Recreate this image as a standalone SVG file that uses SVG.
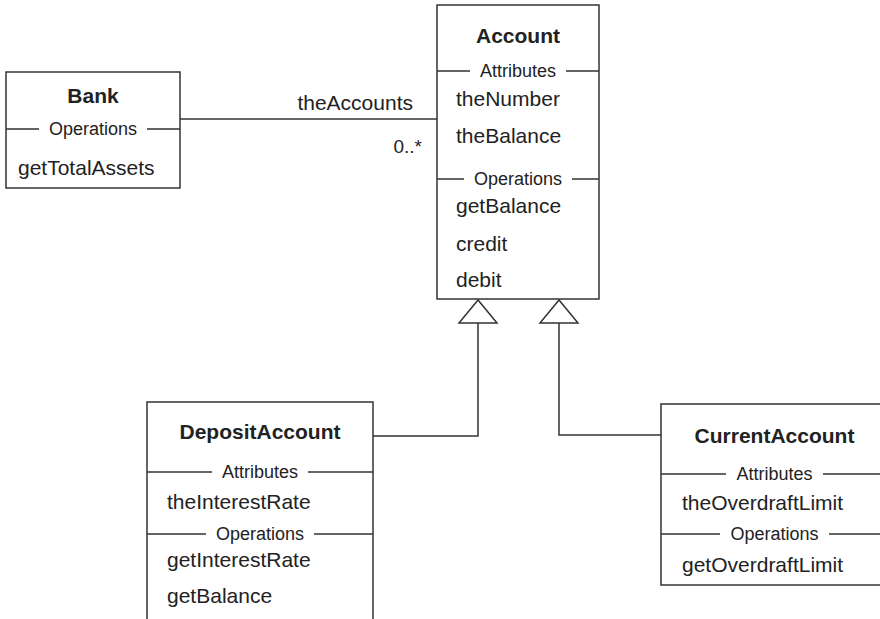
<svg xmlns="http://www.w3.org/2000/svg" width="880" height="619" viewBox="0 0 880 619">
  <style>
    .box { fill: #fff; stroke: #333; stroke-width: 1.5; }
    .sep { stroke: #333; stroke-width: 1.5; fill: none; }
    .conn { stroke: #333; stroke-width: 1.5; fill: none; }
    .tri { fill: #fff; stroke: #333; stroke-width: 1.5; stroke-linejoin: miter; }
    .title { font-family: "Liberation Sans", Arial, sans-serif; font-weight: bold; font-size: 21px; fill: #222; text-anchor: middle; }
    .head { font-family: "Liberation Sans", Arial, sans-serif; font-size: 18px; fill: #222; text-anchor: middle; }
    .mem { font-family: "Liberation Sans", Arial, sans-serif; font-size: 21px; fill: #222; }
    .lbl { font-family: "Liberation Sans", Arial, sans-serif; font-size: 21px; fill: #222; text-anchor: end; }
    .mult { font-family: "Liberation Sans", Arial, sans-serif; font-size: 19px; fill: #222; text-anchor: end; }
  </style>

  <!-- connectors: association and generalisations -->
  <g id="connectors">
    <path class="conn" d="M180,119 H437"/>
    <text class="lbl" x="413" y="110">theAccounts</text>
    <text class="mult" x="422" y="153">0..*</text>
    <path class="conn" d="M373,436 H478 V323"/>
    <path class="conn" d="M661,435 H559 V323"/>
    <polygon class="tri" points="478,300 459,323 497,323"/>
    <polygon class="tri" points="559,300 540,323 578,323"/>
  </g>

  <g id="bank">
    <rect class="box" x="6" y="72" width="174" height="116"/>
    <text class="title" x="93" y="103">Bank</text>
    <path class="sep" d="M6,129 H39 M147,129 H180"/>
    <text class="head" x="93" y="135">Operations</text>
    <text class="mem" x="18" y="175">getTotalAssets</text>
  </g>

  <g id="account">
    <rect class="box" x="437" y="5" width="162" height="294"/>
    <text class="title" x="518" y="43">Account</text>
    <path class="sep" d="M437,71 H470 M566,71 H599"/>
    <text class="head" x="518" y="77">Attributes</text>
    <text class="mem" x="456" y="106">theNumber</text>
    <text class="mem" x="456" y="143">theBalance</text>
    <path class="sep" d="M437,179 H464 M572,179 H599"/>
    <text class="head" x="518" y="185">Operations</text>
    <text class="mem" x="456" y="213">getBalance</text>
    <text class="mem" x="456" y="251">credit</text>
    <text class="mem" x="456" y="287">debit</text>
  </g>

  <g id="depositAccount">
    <rect class="box" x="147" y="402" width="226" height="240"/>
    <text class="title" x="260" y="439">DepositAccount</text>
    <path class="sep" d="M147,472 H212 M308,472 H373"/>
    <text class="head" x="260" y="478">Attributes</text>
    <text class="mem" x="167" y="509">theInterestRate</text>
    <path class="sep" d="M147,534 H206 M314,534 H373"/>
    <text class="head" x="260" y="540">Operations</text>
    <text class="mem" x="167" y="567">getInterestRate</text>
    <text class="mem" x="167" y="603">getBalance</text>
  </g>

  <g id="currentAccount">
    <rect class="box" x="661" y="404" width="227" height="181"/>
    <text class="title" x="774.5" y="443">CurrentAccount</text>
    <path class="sep" d="M661,474 H726 M823,474 H888"/>
    <text class="head" x="774.5" y="480">Attributes</text>
    <text class="mem" x="682" y="510">theOverdraftLimit</text>
    <path class="sep" d="M661,534 H720 M829,534 H888"/>
    <text class="head" x="774.5" y="540">Operations</text>
    <text class="mem" x="682" y="572">getOverdraftLimit</text>
  </g>
</svg>
